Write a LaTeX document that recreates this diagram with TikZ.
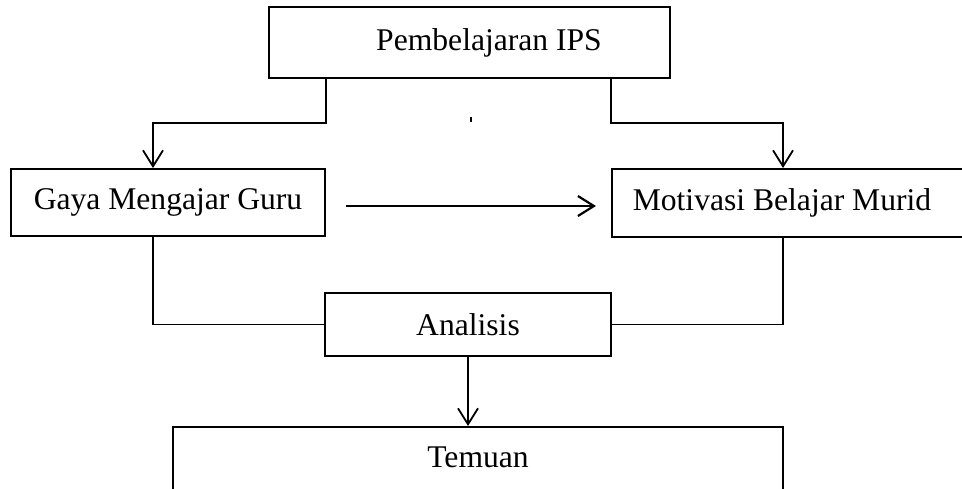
\documentclass[tikz,border=0pt]{standalone}
\usepackage{fontspec}
\setmainfont{Liberation Serif}
\usetikzlibrary{arrows.meta, positioning}

\begin{document}
\begin{tikzpicture}[
          x=0.5pt, y=-0.5pt,
          box/.style={
              draw=black,
              fill=white,
              line width=1pt,
              inner sep=0pt,
              font=\fontsize{15.8}{19}\selectfont
            },
          conn/.style={black, line width=0.9pt},
          arr/.style={-{Straight Barb[length=8pt, width=10pt, line width=0.9pt]}, black, line width=0.9pt},
          bigarr/.style={-{Straight Barb[length=8pt, width=10pt, line width=1.1pt]}, black, line width=1.4pt}
        ]
        \clip (0,0) rectangle (962,488);

        \node[box, minimum width=200.5pt, minimum height=35.5pt, text depth=3pt] (ips) at (469.5,42.5) {\hspace*{19.5pt}Pembelajaran IPS};
        \node[box, minimum width=157pt, minimum height=33.5pt] (gaya) at (168,202.5) {Gaya Mengajar Guru};
        \node[box, minimum width=200pt, minimum height=34pt, anchor=west] (motivasi) at (611,203) {Motivasi Belajar Murid\hspace*{30pt}};
        \node[box, minimum width=143pt, minimum height=31.5pt] (analisis) at (468,324.5) {Analisis};
        \node[box, minimum width=305pt, minimum height=32.5pt, text depth=2pt] (temuan) at (478,459.5) {Temuan};

        \coordinate (lbend) at (153,123);
        \coordinate (rbend) at (783,123);

        \draw[arr] (ips.south -| gaya.east) |- (lbend) -- (lbend |- gaya.north);
        \draw[arr] (ips.south -| motivasi.west) |- (rbend) -- (rbend |- motivasi.north);
        \draw[bigarr] ([xshift=10pt, yshift=-1.75pt]gaya.east) -- ([xshift=-7.5pt, yshift=-1.5pt]motivasi.west);
        \draw[conn] (lbend |- gaya.south) |- (analisis.west);
        \draw[conn] (rbend |- motivasi.south) |- (analisis.east);
        \draw[arr] (analisis.south) -- (analisis.south |- temuan.north);

        \draw[line width=0.8pt] (471,117) -- (471,122);
      \end{tikzpicture}
\end{document}
